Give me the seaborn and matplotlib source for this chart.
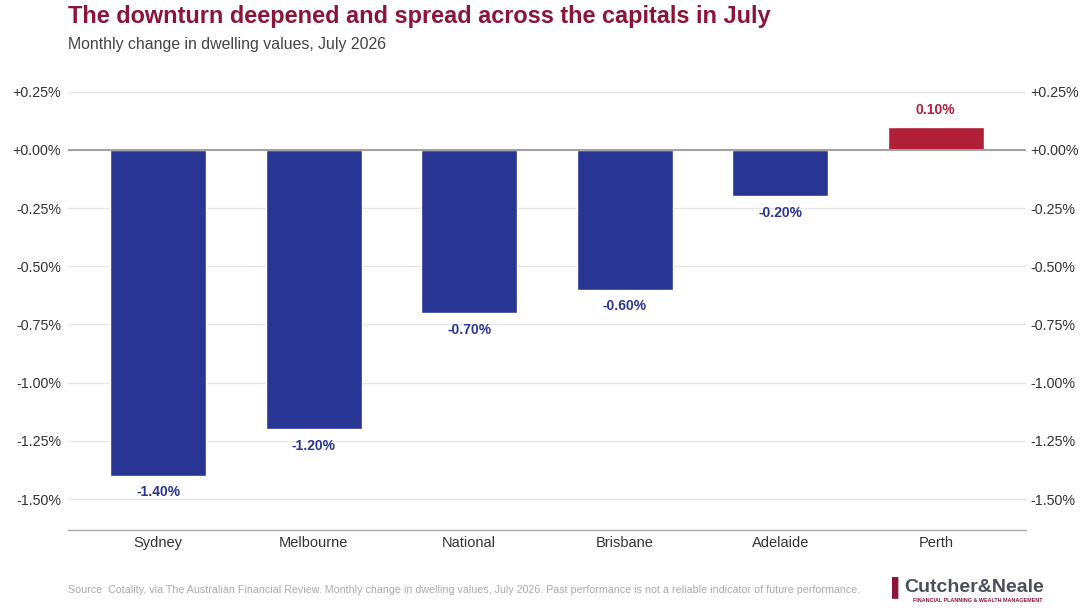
import matplotlib
matplotlib.use("Agg")
import matplotlib.pyplot as plt
import seaborn as sns
import pandas as pd
from matplotlib.ticker import FuncFormatter

cities = ["Sydney", "Melbourne", "National", "Brisbane", "Adelaide", "Perth"]
changes = [-1.40, -1.20, -0.70, -0.60, -0.20, 0.10]
yticks = [0.25, 0.0, -0.25, -0.5, -0.75, -1.0, -1.25, -1.5]

NEG = "#283593"
POS = "#B01E3A"
TITLE = "#8B1538"

sns.set_theme(style="white")
plt.rcParams["font.family"] = ["Liberation Sans", "DejaVu Sans"]

df = pd.DataFrame({"city": cities, "change": changes})
colors = [POS if v > 0 else NEG for v in changes]

fig = plt.figure(figsize=(10.81, 6.08), dpi=100)
ax = fig.add_axes([0.0629, 0.1283, 0.9491 - 0.0629, 0.8684 - 0.1283])

sns.barplot(data=df, x="city", y="change", hue="city", palette=colors,
            legend=False, width=0.62, ax=ax, saturation=1)

ax.set_ylim(-1.633, 0.30)
ax.set_xlim(-0.58, 5.58)
ax.set_yticks(yticks)
fmt = FuncFormatter(lambda v, p: f"{v:+.2f}%" if abs(v) > 1e-9 else "+0.00%")
ax.yaxis.set_major_formatter(fmt)
ax.grid(axis="y", color="#e6e6e6", linewidth=1)
ax.set_axisbelow(True)
ax.axhline(0, color="#a0a0a0", linewidth=1.4, zorder=3)
for s in ["top", "left", "right"]:
    ax.spines[s].set_visible(False)
ax.spines["bottom"].set_color("#aaaaaa")
ax.spines["bottom"].set_linewidth(1)
ax.set_xlabel("")
ax.set_ylabel("")
ax.tick_params(axis="x", length=0, labelsize=10.5, labelcolor="#333333", pad=4)
ax.tick_params(axis="y", length=0, labelsize=10.3, labelcolor="#333333", pad=5)

ax2 = ax.twinx()
ax2.set_ylim(ax.get_ylim())
ax2.set_yticks(yticks)
ax2.yaxis.set_major_formatter(fmt)
ax2.tick_params(axis="y", length=0, labelsize=10.3, labelcolor="#333333", pad=3)
for s in ax2.spines.values():
    s.set_visible(False)

for i, v in enumerate(changes):
    if v < 0:
        ax.annotate(f"{v:.2f}%", (i, v), xytext=(0, -7), textcoords="offset points",
                    ha="center", va="top", fontsize=10, fontweight="bold", color=NEG)
    else:
        ax.annotate(f"{v:.2f}%", (i, v), xytext=(0, 7), textcoords="offset points",
                    ha="center", va="bottom", fontsize=10, fontweight="bold", color=POS)

fig.text(68/1081, 1 - 16/608, "The downturn deepened and spread across the capitals in July",
         fontsize=16.9, fontweight="bold", color=TITLE, va="center", ha="left")
fig.text(68/1081, 1 - 45/608, "Monthly change in dwelling values, July 2026",
         fontsize=11.4, color="#444444", va="center", ha="left")
fig.text(68/1081, 1 - 590/608,
         "Source  Cotality, via The Australian Financial Review. Monthly change in dwelling values, July 2026. Past performance is not a reliable indicator of future performance.",
         fontsize=7.65, color="#aaaaaa", va="center", ha="left")

# logo (text)
fig.text(892/1081, 1 - 587/608, "\u258C", fontsize=13, color=TITLE, va="center", ha="left", fontweight="bold")
fig.text(904/1081, 1 - 587/608, "Cutcher&Neale", fontsize=14, color="#4a4f5a",
         va="center", ha="left", fontweight="bold")
fig.text(913/1081, 1 - 600/608, "FINANCIAL PLANNING & WEALTH MANAGEMENT", fontsize=3.9,
         color=TITLE, va="center", ha="left", fontweight="bold")

fig.savefig("out.png", dpi=100)
